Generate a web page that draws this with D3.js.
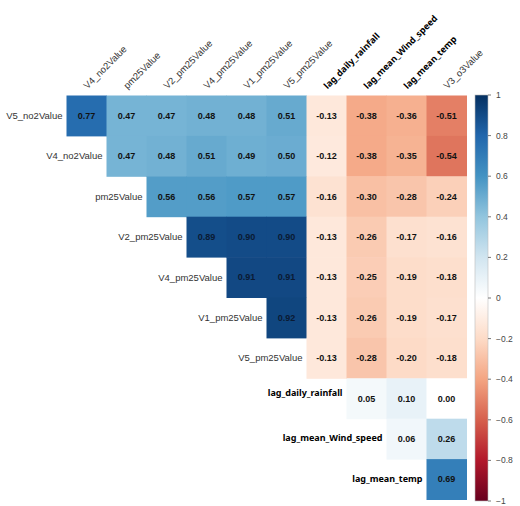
<!DOCTYPE html>
<html><head><meta charset="utf-8">
<script src="https://cdn.jsdelivr.net/npm/d3@7"></script>
<style>body{margin:0;background:#fff}svg{display:block}</style>
</head><body>
<svg id="c" width="520" height="506"></svg>
<script>
const rowLabels = ["V5_no2Value","V4_no2Value","pm25Value","V2_pm25Value","V4_pm25Value","V1_pm25Value","V5_pm25Value","lag_daily_rainfall","lag_mean_Wind_speed","lag_mean_temp"];
const colLabels = ["V4_no2Value","pm25Value","V2_pm25Value","V4_pm25Value","V1_pm25Value","V5_pm25Value","lag_daily_rainfall","lag_mean_Wind_speed","lag_mean_temp","V3_o3Value"];
const boldLabels = ["lag_daily_rainfall","lag_mean_Wind_speed","lag_mean_temp"];
// upper-triangle values: row r starts at column r
const rowValues = [
  [0.77,0.47,0.47,0.48,0.48,0.51,-0.13,-0.38,-0.36,-0.51],
  [0.47,0.48,0.51,0.49,0.50,-0.12,-0.38,-0.35,-0.54],
  [0.56,0.56,0.57,0.57,-0.16,-0.30,-0.28,-0.24],
  [0.89,0.90,0.90,-0.13,-0.26,-0.17,-0.16],
  [0.91,0.91,-0.13,-0.25,-0.19,-0.18],
  [0.92,-0.13,-0.26,-0.19,-0.17],
  [-0.13,-0.28,-0.20,-0.18],
  [0.05,0.10,0.00],
  [0.06,0.26],
  [0.69]
];
const legendTicks = [1,0.8,0.6,0.4,0.2,0,-0.2,-0.4,-0.6,-0.8,-1];
const paletteStops = ["#67001F","#B2182B","#D6604D","#F4A582","#FDDBC7","#FFFFFF","#D1E5F0","#92C5DE","#4393C3","#2166AC","#053061"];

(function(){
const svg = d3.select("#c");
const gLeft = 66.5, gRight = 466.5, gTop = 95.5, gBottom = 499.5;
const x = d3.scaleBand().domain(colLabels).range([gLeft, gRight]);
const y = d3.scaleBand().domain(rowLabels).range([gTop, gBottom]);
const color = d3.scaleLinear().domain(d3.range(11).map(i => -1 + i*0.2)).range(paletteStops).interpolate(d3.interpolateRgb);

const cells = [];
rowValues.forEach((vals, r) => vals.forEach((v, k) => cells.push({row: rowLabels[r], col: colLabels[r + k], v})));

svg.append("g").selectAll("rect").data(cells).join("rect")
  .attr("x", d => x(d.col)).attr("y", d => y(d.row))
  .attr("width", x.bandwidth()+0.5).attr("height", y.bandwidth()+0.5)
  .attr("fill", d => color(d.v));

svg.append("g").selectAll("text").data(cells).join("text")
  .attr("x", d => x(d.col) + x.bandwidth()/2).attr("y", d => y(d.row) + y.bandwidth()/2)
  .attr("dy", "0.35em").attr("text-anchor", "middle")
  .attr("font-family", "Liberation Sans, Arial, sans-serif").attr("font-size", 9).attr("font-weight", "bold")
  .attr("fill", d => d.v > 0.8 ? "#0a1a33" : "#111")
  .text(d => d.v.toFixed(2));

const isBold = d => boldLabels.includes(d);
const fam = d => isBold(d) ? "Noto Sans, sans-serif" : "Liberation Sans, Arial, sans-serif";
const fs = d => isBold(d) ? 9 : 9.5;
// row labels
svg.append("g").selectAll("text").data(rowLabels).join("text")
  .attr("x", (d, i) => x(colLabels[i]) - 4).attr("y", d => y(d) + y.bandwidth()/2)
  .attr("dy", d => d === "lag_daily_rainfall" ? "-0.3em" : (isBold(d) ? "0.25em" : "0.35em")).attr("text-anchor", "end")
  .attr("font-family", fam).attr("font-size", fs)
  .attr("font-weight", d => isBold(d) ? "bold" : "normal")
  .attr("fill", d => isBold(d) ? "#000" : "#333")
  .text(d => d);

// column labels
svg.append("g").selectAll("text").data(colLabels).join("text")
  .attr("transform", d => `translate(${x(d) + x.bandwidth()/2 + 1},${gTop - 6}) rotate(-45)`)
  .attr("text-anchor", "start")
  .attr("font-family", fam).attr("font-size", fs)
  .attr("font-weight", d => isBold(d) ? "bold" : "normal")
  .attr("fill", d => isBold(d) ? "#000" : "#333")
  .text(d => d);

// colour legend
const lx = 475, lw = 13;
const ly = d3.scaleLinear().domain([-1, 1]).range([501, 95]);
const defs = svg.append("defs");
const grad = defs.append("linearGradient").attr("id", "g").attr("x1", 0).attr("y1", 1).attr("x2", 0).attr("y2", 0);
grad.selectAll("stop").data(paletteStops).join("stop")
  .attr("offset", (d, i) => i/10).attr("stop-color", d => d);
svg.append("rect").attr("x", lx).attr("y", ly(1)).attr("width", lw).attr("height", ly(-1) - ly(1))
  .attr("fill", "url(#g)").attr("stroke", "#bbb").attr("stroke-width", 0.6);
const lg = svg.append("g").attr("transform", `translate(${lx + lw},0)`);
lg.selectAll("line").data(legendTicks).join("line")
  .attr("x1", 0).attr("x2", 3).attr("y1", d => ly(d)).attr("y2", d => ly(d))
  .attr("stroke", "#555").attr("stroke-width", 0.8);
lg.selectAll("text").data(legendTicks).join("text")
  .attr("x", 8).attr("y", d => ly(d)).attr("dy", "0.35em")
  .attr("font-family", "Liberation Sans, Arial, sans-serif").attr("font-size", 8.5).attr("fill", "#444")
  .text(d => d3.format("")(d));
})();
</script>
</body></html>
